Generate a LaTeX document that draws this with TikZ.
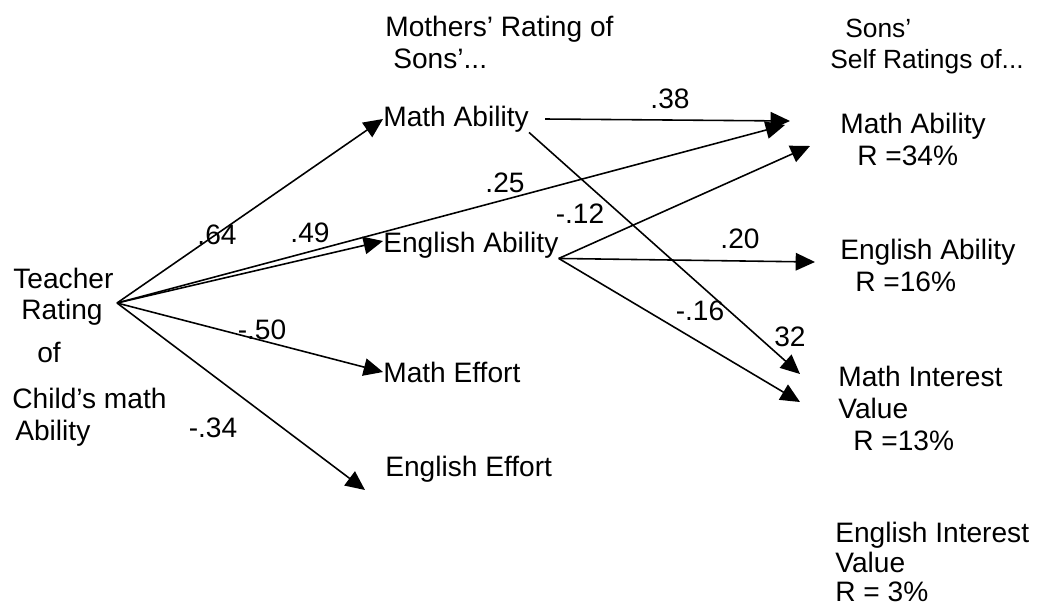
\documentclass[tikz,border=0pt]{standalone}
\usepackage{fontspec}
\setmainfont{Liberation Sans}
\usetikzlibrary{arrows.meta}

\begin{document}
\begin{tikzpicture}[
    >={Triangle[length=11pt,width=10pt]},
    every node/.style={font=\fontsize{16}{18}\selectfont,inner sep=0pt},
    lbl/.style={anchor=west,align=left},
    coef/.style={},
    path/.style={->,line width=0.9pt},
]
\useasboundingbox (0,0) rectangle (20.74,12.14);

% === Headings ===
\node[lbl] (mhead) at (7.7,11.29) {Mothers' Rating of\\\hspace*{0.16cm}Sons'...};
\node[lbl,font=\fontsize{15}{18}\selectfont] (shead) at (16.6,11.21) {\hspace*{0.3cm}Sons'\\Self Ratings of...};

% === Teacher rating ===
\node[lbl] (teacher) at (0.24,5.0) {%
    \hspace*{0.02cm}Teacher\\
    \hspace*{0.18cm}Rating\\[0.22cm]
    \hspace*{0.5cm}of\\[0.3cm]
    Child's math\\
    \hspace*{0.06cm}Ability};
\coordinate (src) at (2.34,6.08);

% === Mothers' ratings ===
\node[lbl] (mma) at (7.66,9.76) {Math Ability};
\node[lbl] (mea) at (7.66,7.24) {English Ability};
\node[lbl] (mef) at (7.66,4.70) {Math Effort};
\node[lbl] (eef) at (7.7,2.76) {English Effort};
\coordinate (eeftip) at (7.3,2.34);

% === Sons' self ratings ===
\node[lbl] (sma) at (16.8,9.35) {Math Ability\\\hspace*{0.34cm}R =34\%};
\node[lbl] (sea) at (16.8,6.83) {English Ability\\\hspace*{0.3cm}R =16\%};
\node[lbl] (smi) at (16.76,3.97) {Math Interest\\Value\\\hspace*{0.3cm}R =13\%};
\node[lbl,font=\fontsize{16}{17}\selectfont] (sei) at (16.7,0.9) {English Interest\\Value\\R = 3\%};

\coordinate (t38) at (15.8,9.72);
\coordinate (t25) at (15.7,9.64);
\coordinate (t12) at (16.2,9.22);
\coordinate (t20) at (16.3,6.9);
\coordinate (t32) at (16.0,4.66);
\coordinate (t16) at (16.0,4.1);

% === Paths from teacher ===
\draw[path] (src) -- (mma.west);
\draw[path] (src) -- ([yshift=0.08cm]mea.west);
\draw[path] (src) -- (mef.west);
\draw[path] (src) -- (eeftip);
\draw[path] (src) -- (t25);

% === Paths from mothers to sons ===
\draw[path] ([xshift=0.32cm]mma.east) -- (t38);
\draw[path] (mma.south east) -- (t32);
\draw[path] (mea.south east) -- (t12);
\draw[path] (mea.south east) -- (t20);
\draw[path] (mea.south east) -- (t16);

% === Coefficients ===
\node[coef] (c64) at (4.34,7.44) {.64};
\node[coef] (c49) at (6.2,7.48) {.49};
\node[coef] (c50) at (5.24,5.54) {-.50};
\node[coef] (c34) at (4.26,3.58) {-.34};
\node[coef] (c38) at (13.4,10.16) {.38};
\node[coef] (c25) at (10.1,8.48) {.25};
\node[coef] (c12) at (11.6,7.86) {-.12};
\node[coef] (c20) at (14.8,7.36) {.20};
\node[coef] (c16) at (14.0,5.92) {-.16};
\node[coef] (c32) at (15.8,5.4) {32};

\end{tikzpicture}
\end{document}
